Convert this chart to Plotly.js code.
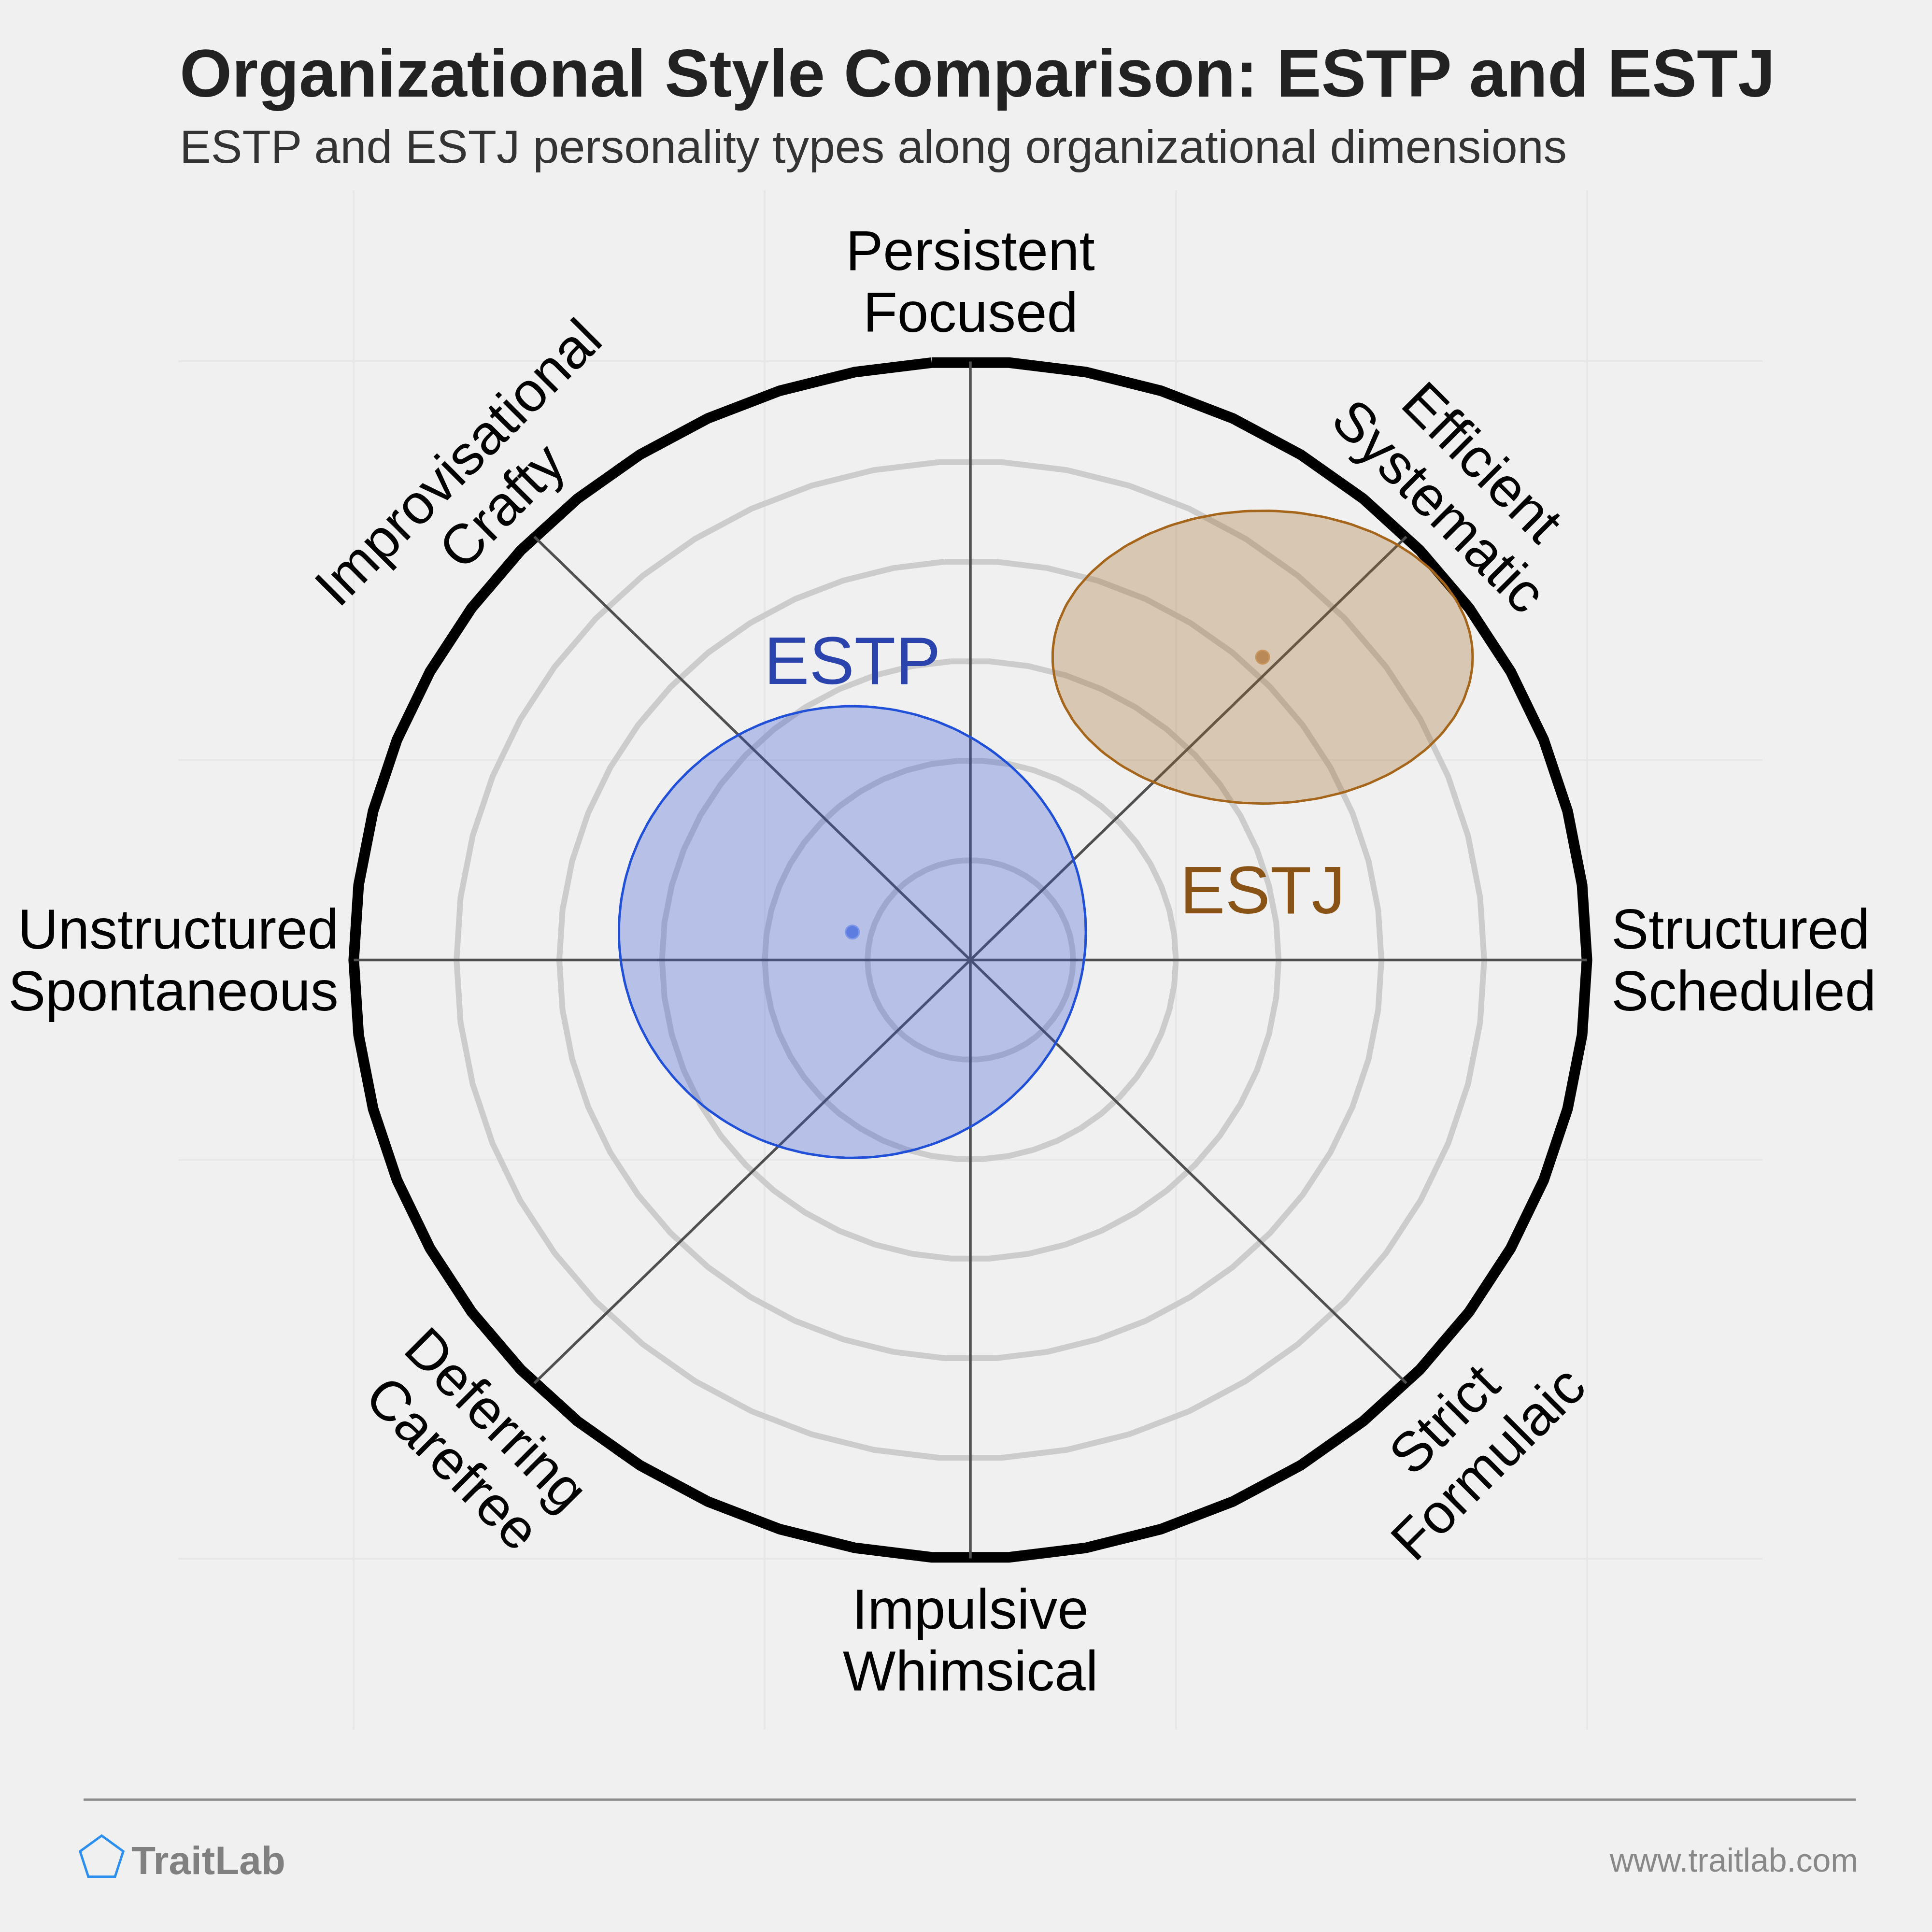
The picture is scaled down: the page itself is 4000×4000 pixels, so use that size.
<!DOCTYPE html>
<html><head><meta charset="utf-8">
<script src="https://cdn.plot.ly/plotly-3.0.1.min.js"></script>
<style>html,body{margin:0;padding:0;background:#f0f0f0}</style>
</head><body>
<div id="chart" style="width:4000px;height:4000px"></div>
<script>
// ---------------- data ----------------
const typeNames = ["ESTP", "ESTJ"];
const typeCenterX = [-0.287, 0.711];
const typeCenterY = [0.070, 0.759];
const typeSpreadX = [0.568, 0.511];
const typeSpreadY = [0.566, 0.367];
const ringLevels = [0.25, 0.5, 0.75, 1.0, 1.25];
const outerLevel = 1.5;
const dimensionLine1 = ["Persistent", "Efficient", "Structured", "Strict", "Impulsive", "Deferring", "Unstructured", "Improvisational"];
const dimensionLine2 = ["Focused", "Systematic", "Scheduled", "Formulaic", "Whimsical", "Carefree", "Spontaneous", "Crafty"];
const titleText = "Organizational Style Comparison: ESTP and ESTJ";
const subtitleText = "ESTP and ESTJ personality types along organizational dimensions";
const brandText = "TraitLab";
const urlText = "www.traitlab.com";

// ---------------- styles ----------------
const FONT = "Liberation Sans, Arial, Helvetica, sans-serif";
const typeLine = ["#2150d8", "#a5651a"];
const typeFill = ["rgba(53,83,213,0.30)", "rgba(160,107,40,0.30)"];
const typeDot = ["#5d7de0", "#b98a57"];
const typeDotLine = ["#7f97e6", "#c99660"];
const typeLabelColor = ["#2a43ad", "#8a5316"];

// plot area in pixels
const W = 4000, H = 4000;
const PL = 369, PR = 3649, PT = 394, PB = 3581;
const px2x = p => (p - PL) / (PR - PL);
const px2y = p => (PB - p) / (PB - PT);

// ---------------- traces ----------------
function ringPts(r, n) {
  const xs = [], ys = [];
  for (let k = 0; k <= n; k++) {
    const a = (90 + 180 / n + 360 * k / n) * Math.PI / 180;
    xs.push(r * Math.cos(a)); ys.push(r * Math.sin(a));
  }
  return [xs, ys];
}
const gx = [], gy = [];
ringLevels.forEach(r => {
  const [xs, ys] = ringPts(r, 50);
  gx.push(...xs, null); gy.push(...ys, null);
});
const [ox, oy] = ringPts(outerLevel, 50);

const sx = [], sy = [];
for (let i = 0; i < 8; i++) {
  const a = (90 - 45 * i) * Math.PI / 180;
  sx.push(0, outerLevel * Math.cos(a), null);
  sy.push(0, outerLevel * Math.sin(a), null);
}

const traces = [
  {x: gx, y: gy, mode: "lines", line: {color: "#cccccc", width: 12}, hoverinfo: "skip"},
  {x: ox, y: oy, mode: "lines", line: {color: "#000000", width: 22}, hoverinfo: "skip"},
  {x: sx, y: sy, mode: "lines", line: {color: "#4f4f4f", width: 5.5}, hoverinfo: "skip"}
];

typeNames.forEach((name, i) => {
  const ex = [], ey = [];
  for (let k = 0; k <= 200; k++) {
    const a = 2 * Math.PI * k / 200;
    ex.push(typeCenterX[i] + typeSpreadX[i] * Math.cos(a));
    ey.push(typeCenterY[i] + typeSpreadY[i] * Math.sin(a));
  }
  traces.push({x: ex, y: ey, mode: "lines", fill: "toself", fillcolor: typeFill[i],
    line: {color: typeLine[i], width: 5}, name: name, hoverinfo: "skip"});
});
typeNames.forEach((name, i) => {
  traces.push({x: [typeCenterX[i]], y: [typeCenterY[i]], mode: "markers", name: name,
    marker: {size: 28, color: typeDot[i], line: {color: typeDotLine[i], width: 3}}});
});

// ---------------- annotations ----------------
const annotations = [];
// type labels
const labelOffset = [0.114, -0.216];
typeNames.forEach((name, i) => {
  const y = i === 0 ? typeCenterY[i] + typeSpreadY[i] + labelOffset[i]
                    : typeCenterY[i] - typeSpreadY[i] + labelOffset[i];
  annotations.push({x: typeCenterX[i], y: y, xref: "x", yref: "y", text: name, showarrow: false,
    xanchor: "center", yanchor: "middle", font: {family: FONT, size: 140, color: typeLabelColor[i]}});
});

// dimension labels
const LS = 128; // line spacing px
for (let i = 0; i < 8; i++) {
  const deg = 90 - 45 * i;
  const a = deg * Math.PI / 180;
  const c = Math.round(Math.cos(a) * 1000) / 1000, s = Math.round(Math.sin(a) * 1000) / 1000;
  let x, y, xanchor = "center", angle = 0;
  if (Math.abs(s) < 0.01) { // left/right
    x = c > 0 ? 1.557 : -1.535; y = 0; xanchor = c > 0 ? "left" : "right";
  } else if (Math.abs(c) < 0.01) { // top/bottom
    x = 0; y = s > 0 ? 1.70 : -1.705;
  } else {
    const rd = s > 0 ? 1.193 : 1.206;
    x = Math.sign(c) * rd; y = Math.sign(s) * rd;
    angle = 45 * Math.sign(c) * Math.sign(s);
  }
  const th = angle * Math.PI / 180;
  const dx = -Math.sin(th), dy = Math.cos(th); // "down" in text frame (screen)
  [dimensionLine1[i], dimensionLine2[i]].forEach((t, j) => {
    const f = j === 0 ? -LS / 2 : LS / 2;
    annotations.push({x: x, y: y, xref: "x", yref: "y", text: t, showarrow: false,
      xanchor: xanchor, yanchor: "middle", textangle: angle,
      xshift: f * dx, yshift: -f * dy,
      font: {family: FONT, size: 116, color: "#000000"}});
  });
}

// title, subtitle, footer
annotations.push({x: px2x(370), y: px2y(152), xref: "paper", yref: "paper", text: titleText,
  showarrow: false, xanchor: "left", yanchor: "middle",
  font: {family: FONT, size: 139, color: "#222222", weight: 700}});
annotations.push({x: px2x(370), y: px2y(304), xref: "paper", yref: "paper", text: subtitleText,
  showarrow: false, xanchor: "left", yanchor: "middle",
  font: {family: FONT, size: 97, color: "#333333"}});
annotations.push({x: px2x(270), y: px2y(3852), xref: "paper", yref: "paper", text: brandText,
  showarrow: false, xanchor: "left", yanchor: "middle",
  font: {family: FONT, size: 82, color: "#808080", weight: 700}});
annotations.push({x: px2x(3849), y: px2y(3851), xref: "paper", yref: "paper", text: urlText,
  showarrow: false, xanchor: "right", yanchor: "middle",
  font: {family: FONT, size: 68, color: "#888888"}});

// logo pentagon
const lcx = 210.5, lcy = 3847.5, lr = 47;
let path = "";
for (let k = 0; k < 5; k++) {
  const a = (-90 + 72 * k) * Math.PI / 180;
  const px = lcx + lr * Math.cos(a), py = lcy + lr * Math.sin(a);
  path += (k === 0 ? "M " : " L ") + px2x(px) + "," + px2y(py);
}
path += " Z";

const shapes = [
  {type: "line", xref: "paper", yref: "paper", x0: px2x(173), x1: px2x(3842), y0: px2y(3726), y1: px2y(3726),
   line: {color: "#8c8c8c", width: 5}},
  {type: "path", xref: "paper", yref: "paper", path: path, line: {color: "#2c8ff0", width: 5}, fillcolor: "rgba(0,0,0,0)"}
];

const axisCommon = {showticklabels: false, ticks: "", zeroline: false, showline: false,
  gridcolor: "#e7e7e7", gridwidth: 4, tickvals: [-1.5, -0.5, 0.5, 1.5], fixedrange: true};

const layout = {
  width: W, height: H,
  margin: {l: PL, r: W - PR, t: PT, b: H - PB, pad: 0},
  paper_bgcolor: "#f0f0f0", plot_bgcolor: "#f0f0f0",
  showlegend: false,
  xaxis: Object.assign({range: [-1.927, 1.927]}, axisCommon),
  yaxis: Object.assign({range: [-1.929, 1.929]}, axisCommon),
  annotations: annotations,
  shapes: shapes
};

Plotly.newPlot("chart", traces, layout, {staticPlot: true, displayModeBar: false});
</script>
</body></html>
